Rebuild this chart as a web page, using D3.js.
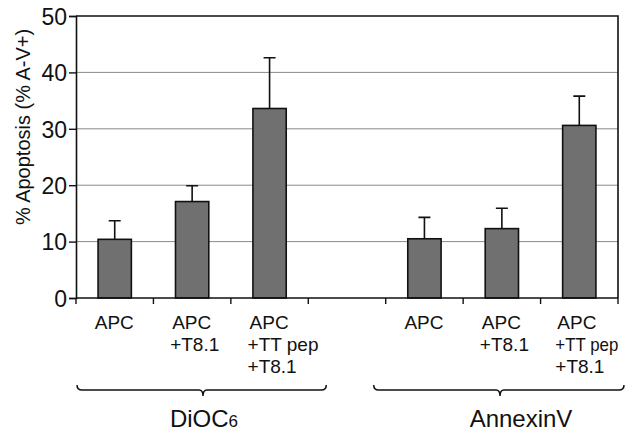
<!DOCTYPE html>
<html><head><meta charset="utf-8">
<script src="https://cdn.jsdelivr.net/npm/d3@7"></script>
<style>body{margin:0;background:#fff}svg{display:block}text{font-family:"Liberation Sans",Arial,Helvetica,sans-serif;fill:#111}</style>
</head><body>
<svg id="c" width="626" height="433"></svg>
<script>
// ---- data ----
const categories = ["c1","c2","c3","gap","c5","c6","c7"];
const categoryLabels = [["APC"],["APC","+T8.1"],["APC","+TT pep","+T8.1"],[],["APC"],["APC","+T8.1"],["APC","+TT pep","+T8.1"]];
const values = [10.4, 17.1, 33.6, null, 10.5, 12.3, 30.6];
const errors = [3.3, 2.8, 9.0, null, 3.8, 3.6, 5.2];
const yTicks = [0, 10, 20, 30, 40, 50];
const groupNames = ["DiOC", "AnnexinV"];
const groupSubs = ["6", ""];
const groupStart = ["c1", "c5"];
const groupEnd = ["c3", "c7"];
const yTitle = "% Apoptosis (% A-V+)";

// ---- layout ----
const W = 626, H = 433;
const m = {l: 76, r: 8, t: 16, b: 135};
const svg = d3.select("#c");
const x = d3.scaleBand().domain(categories).range([m.l, W - m.r]).paddingInner(0.57).paddingOuter(0.285);
const xb = d3.scaleBand().domain(categories).range([m.l, W - m.r]);
const y = d3.scaleLinear().domain([0, 50]).range([H - m.b, m.t]);

// gridlines
svg.append("g").selectAll("line").data(yTicks.filter(d => d > 0 && d < 50)).join("line")
  .attr("x1", m.l).attr("x2", W - m.r).attr("y1", d => y(d)).attr("y2", d => y(d))
  .attr("stroke", "#8a8a8a").attr("stroke-width", 1);

// frame top/right
svg.append("path").attr("d", `M${m.l},${y(50)}H${W - m.r}V${y(0)}`)
  .attr("fill", "none").attr("stroke", "#111").attr("stroke-width", 1.6);

// bars
const data = categories.map((c, i) => ({c, v: values[i], e: errors[i]})).filter(d => d.v != null);
svg.append("g").selectAll("rect").data(data).join("rect")
  .attr("x", d => x(d.c)).attr("width", x.bandwidth())
  .attr("y", d => y(d.v)).attr("height", d => y(0) - y(d.v))
  .attr("fill", "#707070").attr("stroke", "#111").attr("stroke-width", 1.6);

// error bars
const eb = svg.append("g").attr("stroke", "#111").attr("stroke-width", 1.6);
eb.selectAll("path").data(data).join("path")
  .attr("fill", "none")
  .attr("d", d => {
    const cx = x(d.c) + x.bandwidth() / 2;
    return `M${cx},${y(d.v)}V${y(d.v + d.e)}M${cx - 6},${y(d.v + d.e)}H${cx + 6}`;
  });

// y axis
const ya = svg.append("g").attr("transform", `translate(${m.l},0)`)
  .call(d3.axisLeft(y).tickValues(yTicks).tickSize(7).tickPadding(2).tickFormat(d3.format("d")));
ya.select(".domain").attr("stroke", "#111").attr("stroke-width", 1.6);
ya.selectAll(".tick line").attr("stroke", "#111").attr("stroke-width", 1.4);
ya.selectAll(".tick text").attr("font-size", 23).attr("font-family", null).attr("fill", "#111").attr("dy", "0.36em");

// x axis
const xa = svg.append("g").attr("transform", `translate(0,${y(0)})`);
xa.append("line").attr("x1", m.l).attr("x2", W - m.r).attr("stroke", "#111").attr("stroke-width", 1.6);
const bounds = categories.map(c => xb(c)).concat([xb(categories[categories.length - 1]) + xb.bandwidth()]);
xa.selectAll("line.t").data(bounds).join("line").attr("class", "t")
  .attr("x1", d => d).attr("x2", d => d).attr("y1", 0).attr("y2", 6)
  .attr("stroke", "#111").attr("stroke-width", 1.4);

// category labels
const lab = svg.append("g");
categories.forEach((c, i) => {
  const cx = xb(c) + xb.bandwidth() / 2;
  const last = i === categories.length - 1;
  const x0 = cx - (last ? 22 : 20);
  const t = lab.append("text").attr("x", x0).attr("y", 329).attr("font-size", 19);
  categoryLabels[i].forEach((s, j) => {
    const tsp = t.append("tspan").attr("x", x0 + (s.startsWith("+") ? -2 : 0)).attr("y", 329 + j * 22).text(s);
    if (last && s.length > 5) tsp.attr("textLength", 63).attr("lengthAdjust", "spacingAndGlyphs");
  });
});

// braces
const braceL = [xb(groupStart[0]) + 1, xb(groupStart[1]) - 12];
const braceR = [xb(groupEnd[0]) + xb.bandwidth() + 18, W - 2];
const tips = [203, 500];
const labelCx = [204, 521];
groupNames.forEach((g, i) => {
  const x0 = braceL[i], x1 = braceR[i], tp = tips[i];
  const yl = 390;
  svg.append("path").attr("fill", "none").attr("stroke", "#111").attr("stroke-width", 1.5)
    .attr("d", `M${x0},${yl - 5}Q${x0},${yl} ${x0 + 5},${yl}L${tp - 4},${yl}Q${tp},${yl} ${tp},${yl + 6}Q${tp},${yl} ${tp + 4},${yl}L${x1 - 5},${yl}Q${x1},${yl} ${x1},${yl - 5}`);
  const t = svg.append("text").attr("x", labelCx[i]).attr("y", 427).attr("text-anchor", "middle").attr("font-size", 24);
  t.append("tspan").text(g);
  if (groupSubs[i]) t.append("tspan").attr("font-size", 17).text(groupSubs[i]);
});

// y title
svg.append("text").attr("transform", `translate(30,127) rotate(-90)`).attr("text-anchor", "middle")
  .attr("font-size", 20).text(yTitle);
</script>
</body></html>
